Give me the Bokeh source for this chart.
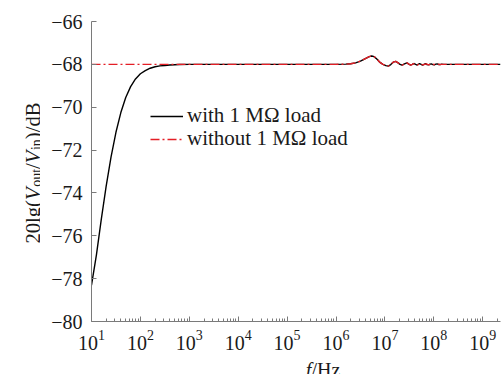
import math
from bokeh.plotting import figure
from bokeh.layouts import row, column
from bokeh.models import (Legend, LegendItem, FixedTicker, LogTickFormatter, Range1d)
from bokeh.core.properties import value
from bokeh.embed import file_html
from bokeh.resources import INLINE

# ---- data: log10(f / Hz) and gain 20lg(Vout/Vin) in dB ----
log_f_with = [1.0, 1.1, 1.2, 1.3, 1.4, 1.5, 1.6, 1.7, 1.8, 1.9, 2.0, 2.1, 2.2, 2.3,
              2.4, 2.5, 2.6, 2.8, 3.0, 4.0, 5.0, 6.0, 6.2, 6.3, 6.4, 6.5, 6.6,
              6.68, 6.73, 6.78, 6.84, 6.9, 6.96, 7.02, 7.07, 7.12, 7.17, 7.22,
              7.27, 7.31, 7.35, 7.4, 7.45, 7.49, 7.52, 7.56, 7.59, 7.62, 7.65,
              7.68, 7.71, 7.74, 7.77, 7.8, 7.83, 7.86, 7.89, 7.92, 7.95, 7.98,
              8.01, 8.04, 8.07, 8.1, 8.13, 8.16, 8.2, 8.5, 9.0, 9.364]
gain_with = [-78.3, -76.9, -75.23, -73.68, -72.32, -71.17, -70.25, -69.55, -69.04,
             -68.68, -68.44, -68.29, -68.18, -68.11, -68.07, -68.05, -68.03, -68.01,
             -68.0, -68.0, -68.0, -68.0, -67.99, -67.97, -67.93, -67.85, -67.73,
             -67.64, -67.61, -67.64, -67.76, -67.91, -68.0, -68.06, -68.08, -68.01,
             -67.9, -67.86, -67.93, -68.0, -68.04, -67.98, -67.93, -67.99, -68.03,
             -68.0, -67.96, -67.99, -68.03, -68.0, -67.97, -68.0, -68.03, -68.0,
             -67.97, -68.01, -68.02, -67.99, -67.98, -68.01, -68.02, -67.99, -67.98,
             -68.01, -68.01, -67.99, -68.0, -68.0, -68.0, -68.0]

log_f_without = [1.0, 2.0, 3.0, 4.0, 5.0, 6.0, 6.2, 6.3, 6.4, 6.5, 6.6, 6.68, 6.73,
                 6.78, 6.84, 6.9, 6.96, 7.02, 7.07, 7.12, 7.17, 7.22, 7.27, 7.31,
                 7.35, 7.4, 7.45, 7.49, 7.52, 7.55, 7.58, 7.61, 7.64, 7.67, 7.7,
                 7.73, 7.76, 7.79, 7.82, 7.85, 7.88, 7.91, 7.94, 7.97, 8.0, 8.03,
                 8.06, 8.09, 8.12, 8.15, 8.2, 8.5, 9.0, 9.364]
gain_without = [-68.0, -68.0, -68.0, -68.0, -68.0, -68.0, -67.99, -67.97, -67.93,
                -67.85, -67.73, -67.64, -67.61, -67.64, -67.76, -67.91, -68.0,
                -68.06, -68.08, -68.01, -67.9, -67.86, -67.93, -68.0, -68.04,
                -67.98, -67.93, -67.99, -68.03, -68.02, -67.97, -67.97, -68.02,
                -68.03, -67.98, -67.97, -68.01, -68.02, -67.99, -67.98, -68.01,
                -68.02, -67.99, -67.98, -68.01, -68.01, -67.99, -67.99, -68.01,
                -68.0, -68.0, -68.0, -68.0, -68.0]

series_names = ["with 1 M\u03a9 load", "without 1 M\u03a9 load"]
x_decades = [1, 2, 3, 4, 5, 6, 7, 8, 9]
y_ticks = [-80, -78, -76, -74, -72, -70, -68, -66]
x_limits_log = (1.0, 9.364)
y_limits = (-80, -66)

f_with = [10 ** v for v in log_f_with]
f_without = [10 ** v for v in log_f_without]

SERIF = "Liberation Serif"
AXIS_GREY = "#7a7a7a"
TEXT = "#1a1a1a"
RED = "#e41e26"

W, H = 502, 374
LEFT_STRIP = 40      # width of the strip holding the rotated y title
BOTTOM_STRIP = 22    # height of the strip holding the x title

p = figure(width=W - LEFT_STRIP, height=H - BOTTOM_STRIP, x_axis_type="log",
           output_backend="svg", toolbar_location=None,
           x_range=Range1d(10 ** x_limits_log[0], 10 ** x_limits_log[1]),
           y_range=Range1d(*y_limits),
           min_border_left=91 - LEFT_STRIP, min_border_right=2, min_border_top=21,
           min_border_bottom=H - BOTTOM_STRIP - 323)
p.outline_line_color = None
p.grid.visible = False
p.background_fill_color = "white"
p.border_fill_color = "white"

r_with = p.line(f_with, gain_with, line_color="black", line_width=1.4)
r_without = p.line(f_without, gain_without, line_color=RED, line_width=1.4,
                   line_dash="9 3 2 3")

# x axis: decades with minor ticks, ticks pointing inward
minor = [m * 10 ** d for d in range(1, 10) for m in range(2, 10)
         if m * 10 ** d <= 10 ** x_limits_log[1]]
xa = p.xaxis[0]
xa.ticker = FixedTicker(ticks=[10 ** d for d in x_decades], minor_ticks=minor)
xa.formatter = LogTickFormatter()
xa.major_tick_in = 5
xa.major_tick_out = 0
xa.minor_tick_in = 3
xa.minor_tick_out = 0
xa.minor_tick_line_color = AXIS_GREY
xa.major_label_standoff = 8

ya = p.yaxis[0]
ya.ticker = FixedTicker(ticks=y_ticks, minor_ticks=[])
ya.major_label_overrides = {t: ("\u2212" if t < 0 else "") + str(abs(t)) for t in y_ticks}
ya.major_tick_in = 5
ya.major_tick_out = 0
ya.minor_tick_line_color = None
ya.major_label_standoff = 9

for ax in (xa, ya):
    ax.axis_line_color = AXIS_GREY
    ax.major_tick_line_color = AXIS_GREY
    ax.major_label_text_font = SERIF
    ax.major_label_text_font_size = "20px"
    ax.major_label_text_color = TEXT
    ax.axis_label = None

# one borderless legend per row, so the rows can sit closer than the text height
legend_rows = [(series_names[0], r_with, 193), (series_names[1], r_without, 170)]
for name, rend, loc_y in legend_rows:
    p.add_layout(Legend(items=[LegendItem(label=name, renderers=[rend])],
                        location=(59, loc_y), padding=0, margin=0, spacing=0,
                        glyph_width=33, glyph_height=18, label_height=18,
                        label_standoff=4, border_line_alpha=0,
                        background_fill_alpha=0, label_text_font=SERIF,
                        label_text_font_size="21px", label_text_color=TEXT))


def text_strip(width, height):
    s = figure(width=width, height=height, output_backend="svg", title=None,
               toolbar_location=None, x_range=Range1d(0, width),
               y_range=Range1d(0, height), x_axis_location=None,
               y_axis_location=None, min_border=0)
    s.outline_line_color = None
    s.grid.visible = False
    s.border_fill_color = "white"
    return s


def put(fig, txt, x, y, size, style="normal", angle=0.0):
    fig.text(x=[x], y=[y], text=[txt], angle=angle,
             text_font=value(SERIF), text_font_size=value(f"{size}px"),
             text_font_style=style, text_color=TEXT,
             text_align="left", text_baseline="alphabetic")


# x title: f/Hz with an italic f
xs = text_strip(W - LEFT_STRIP, BOTTOM_STRIP)
put(xs, "f", 282 - LEFT_STRIP, 5, 20, "italic")
put(xs, "/Hz", 288.5 - LEFT_STRIP, 5, 20)

# y title, read bottom to top: 20lg(V_out/V_in)/dB
ys = text_strip(LEFT_STRIP, H)
em = 20.6
sub = 14.0
pieces = [("20lg(", 2.111 * em, em, "normal", 0),
          ("V", 0.64 * em, em, "italic", 0),
          ("out", 1.278 * sub, sub, "normal", 4),
          ("/", 0.278 * em, em, "normal", 0),
          ("V", 0.64 * em, em, "italic", 0),
          ("in", 0.778 * sub, sub, "normal", 4),
          (")/dB", 1.778 * em, em, "normal", 0)]
pos = H - 243.0
for txt, adv, size, style, drop in pieces:
    put(ys, txt, 32 + drop, pos, size, style, angle=math.pi / 2)
    pos += adv

layout = row(ys, column(p, xs, spacing=0), spacing=0)
open("out.html", "w").write(file_html(layout, INLINE))
